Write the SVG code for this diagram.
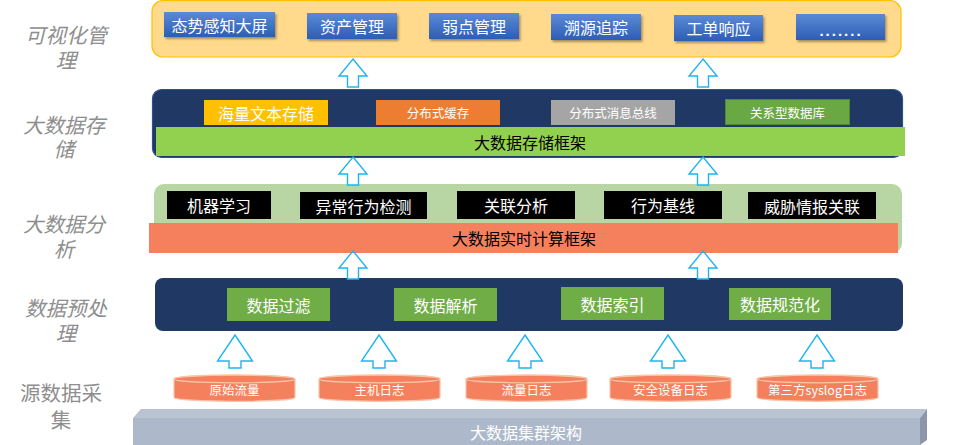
<svg xmlns="http://www.w3.org/2000/svg" width="962" height="445" viewBox="0 0 962 445">
<style>
text{font-family:"Noto Sans CJK SC","Microsoft YaHei",sans-serif;}
.lbl{font-size:20.5px;fill:#8e8e8e;text-anchor:middle;}
.it{font-style:italic;}
.t16{font-size:16px;text-anchor:middle;dominant-baseline:central;}
.t13{font-size:12.5px;text-anchor:middle;dominant-baseline:central;}
.w{fill:#ffffff;}
.k{fill:#000000;}
.btn{fill:url(#blueGrad);filter:url(#sh);}
.arr{fill:#ffffff;stroke:#1CB5EE;stroke-width:1.4;}
.cyl{fill:#F4805E;stroke:#F9C4A8;stroke-width:1.2;}
.gbox{fill:#70AD47;}
.blk{fill:#000000;}
</style>
<defs>
<linearGradient id="blueGrad" x1="0" y1="0" x2="0" y2="1">
<stop offset="0" stop-color="#5A8AD6"/>
<stop offset="1" stop-color="#2E5DB5"/>
</linearGradient>
<filter id="sh" x="-10%" y="-20%" width="130%" height="160%">
<feDropShadow dx="1.5" dy="2" stdDeviation="1.2" flood-color="#000" flood-opacity="0.35"/>
</filter>
<path id="sa" class="arr" d="M0,0 L14,17 L5.5,17 L5.5,28 L-5.5,28 L-5.5,17 L-14,17 Z"/>
<path id="ba" class="arr" d="M0,0 L17.5,26 L6,26 L6,33 L-6,33 L-6,26 L-17.5,26 Z"/>
</defs>

<!-- left labels -->
<g id="labels">
<text class="lbl it" x="66" y="43">可视化管</text>
<text class="lbl it" x="66" y="68">理</text>
<text class="lbl it" x="64" y="133">大数据存</text>
<text class="lbl it" x="64" y="157">储</text>
<text class="lbl it" x="64" y="232">大数据分</text>
<text class="lbl it" x="64" y="257">析</text>
<text class="lbl it" x="66" y="316">数据预处</text>
<text class="lbl it" x="66" y="341">理</text>
<text class="lbl" x="61" y="401">源数据采</text>
<text class="lbl" x="61" y="428">集</text>
</g>

<!-- visualization layer -->
<g id="vis">
<rect x="152" y="0.5" width="749" height="56.5" rx="11" fill="#FFD98C" stroke="#FFC000" stroke-width="1.2"/>
<g id="v1"><rect class="btn" x="164" y="12" width="111" height="25"/><text class="t16 w" x="219.5" y="24.5">态势感知大屏</text></g>
<g id="v2"><rect class="btn" x="307" y="13" width="90" height="26"/><text class="t16 w" x="352" y="26">资产管理</text></g>
<g id="v3"><rect class="btn" x="429" y="13" width="90" height="26"/><text class="t16 w" x="474" y="26">弱点管理</text></g>
<g id="v4"><rect class="btn" x="551" y="14" width="90" height="26"/><text class="t16 w" x="596" y="27">溯源追踪</text></g>
<g id="v5"><rect class="btn" x="674" y="15" width="89" height="26"/><text class="t16 w" x="718.5" y="28">工单响应</text></g>
<g id="v6"><rect class="btn" x="796" y="14" width="89" height="26"/><text x="841" y="36" style="font-family:'Liberation Sans',sans-serif;font-size:15px;font-weight:bold;fill:#fff;text-anchor:middle;letter-spacing:2px">.......</text></g>
</g>

<!-- storage layer -->
<g id="storage">
<rect x="152.5" y="89.5" width="750" height="68" rx="9" fill="#203864" stroke="#2F528F" stroke-width="1.2"/>
<g id="s1"><rect x="204" y="100" width="124" height="25" fill="#FFC000"/><text class="t16 w" x="266" y="112.5">海量文本存储</text></g>
<g id="s2"><rect x="376" y="100" width="124" height="25" fill="#ED7D31"/><text class="t13 w" x="438" y="112.5">分布式缓存</text></g>
<g id="s3"><rect x="551" y="100" width="124" height="25" fill="#A5A5A5"/><text class="t13 w" x="613" y="112.5">分布式消息总线</text></g>
<g id="s4"><rect x="725.5" y="99.5" width="124" height="25" fill="#6AA843" stroke="#4E8A30" stroke-width="1"/><text class="t13 w" x="787.5" y="112">关系型数据库</text></g>
<g id="s5"><rect x="156" y="127" width="749" height="29" fill="#92D050"/><text class="t16 k" x="530" y="141.5">大数据存储框架</text></g>
</g>

<!-- analysis layer -->
<g id="analysis">
<rect x="154" y="184" width="748" height="69" rx="10" fill="#B8D6A4"/>
<g id="a1"><rect class="blk" x="167" y="191" width="104" height="28"/><text class="t16 w" x="219" y="205">机器学习</text></g>
<g id="a2"><rect class="blk" x="300" y="192" width="127" height="27"/><text class="t16 w" x="363.5" y="205.5">异常行为检测</text></g>
<g id="a3"><rect class="blk" x="457" y="191" width="118" height="28"/><text class="t16 w" x="516" y="205">关联分析</text></g>
<g id="a4"><rect class="blk" x="604" y="191" width="118" height="28"/><text class="t16 w" x="663" y="205">行为基线</text></g>
<g id="a5"><rect class="blk" x="748" y="192" width="128" height="27"/><text class="t16 w" x="812" y="205.5">威胁情报关联</text></g>
<g id="a6"><rect x="149" y="223" width="749" height="30" fill="#F4805E"/><text class="t16 k" x="524" y="238">大数据实时计算框架</text></g>
</g>

<!-- preprocessing layer -->
<g id="preproc">
<rect x="155" y="278" width="748" height="53" rx="8" fill="#203864"/>
<g id="p1"><rect class="gbox" x="227" y="288" width="103" height="33"/><text class="t16 w" x="278.5" y="304.5">数据过滤</text></g>
<g id="p2"><rect class="gbox" x="394" y="288" width="103" height="33"/><text class="t16 w" x="445.5" y="304.5">数据解析</text></g>
<g id="p3"><rect class="gbox" x="561" y="287" width="103" height="33"/><text class="t16 w" x="612.5" y="303.5">数据索引</text></g>
<g id="p4"><rect class="gbox" x="729" y="288" width="102" height="32"/><text class="t16 w" x="780" y="304">数据规范化</text></g>
</g>

<!-- sources -->
<g id="sources">
<g id="c1"><path class="cyl" d="M174,379 L174,397.5 A60.5,3.8 0 0 0 295,397.5 L295,379 A60.5,3.8 0 0 0 174,379 Z"/><ellipse class="cyl" cx="234.5" cy="379" rx="60.5" ry="3.8"/><text class="t13 w" x="234.5" y="389.5">原始流量</text></g>
<g id="c2"><path class="cyl" d="M319,379 L319,397.5 A60.5,3.8 0 0 0 440,397.5 L440,379 A60.5,3.8 0 0 0 319,379 Z"/><ellipse class="cyl" cx="379.5" cy="379" rx="60.5" ry="3.8"/><text class="t13 w" x="379.5" y="389.5">主机日志</text></g>
<g id="c3"><path class="cyl" d="M466,379 L466,397.5 A60.5,3.8 0 0 0 587,397.5 L587,379 A60.5,3.8 0 0 0 466,379 Z"/><ellipse class="cyl" cx="526.5" cy="379" rx="60.5" ry="3.8"/><text class="t13 w" x="526.5" y="389.5">流量日志</text></g>
<g id="c4"><path class="cyl" d="M610,379 L610,397.5 A60.5,3.8 0 0 0 731,397.5 L731,379 A60.5,3.8 0 0 0 610,379 Z"/><ellipse class="cyl" cx="670.5" cy="379" rx="60.5" ry="3.8"/><text class="t13 w" x="670.5" y="389.5">安全设备日志</text></g>
<g id="c5"><path class="cyl" d="M757,379 L757,397.5 A60.5,3.8 0 0 0 878,397.5 L878,379 A60.5,3.8 0 0 0 757,379 Z"/><ellipse class="cyl" cx="817.5" cy="379" rx="60.5" ry="3.8"/><text class="t13 w" x="817.5" y="389.5">第三方syslog日志</text></g>
</g>

<!-- cluster base -->
<g id="cluster">
<polygon points="141,409 927,409 920,418 133,418" fill="#BAC3D2"/>
<rect x="133" y="418" width="787" height="27" fill="#ADB9CA"/>
<polygon points="920,418 927,409 927,440 920,445" fill="#8C98A9"/>
<text class="t16 w" x="526" y="432">大数据集群架构</text>
</g>

<!-- connectors -->
<g id="connectors">
<use href="#sa" x="353" y="59"/>
<use href="#sa" x="703" y="59"/>
<use href="#sa" x="353" y="157"/>
<use href="#sa" x="703" y="157"/>
<use href="#sa" x="353" y="251"/>
<use href="#sa" x="703" y="251"/>
<use href="#ba" x="235" y="335"/>
<use href="#ba" x="379" y="335"/>
<use href="#ba" x="525" y="335"/>
<use href="#ba" x="668" y="335"/>
<use href="#ba" x="817" y="335"/>
</g>
</svg>
